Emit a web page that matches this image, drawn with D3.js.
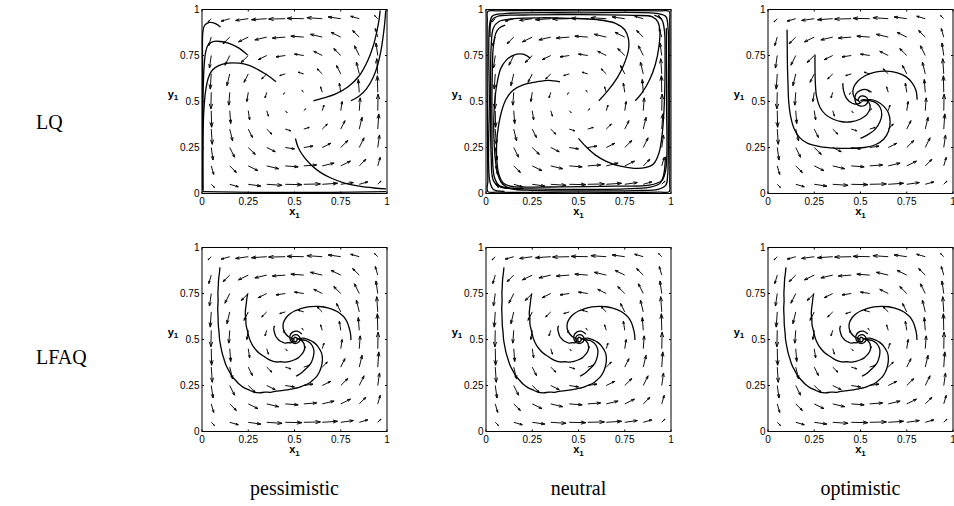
<!DOCTYPE html>
<html><head><meta charset="utf-8">
<script src="https://cdn.jsdelivr.net/npm/d3@7"></script>
<style>body{margin:0;background:#fff}svg{display:block}</style>
</head><body>
<svg id="c" width="954" height="506"></svg>
<script>
// ---------- data ----------
const tickValues = [0, 0.25, 0.5, 0.75, 1];
const tickLabels = ["0", "0.25", "0.5", "0.75", "1"];
const columnLabels = ["pessimistic", "neutral", "optimistic"];
const rowLabels = ["LQ", "LFAQ"];

// quiver grid (same field in all six panels)
const gridX = [0.05, 0.15, 0.25, 0.35, 0.45, 0.55, 0.65, 0.75, 0.85, 0.95];
const gridY = [0.05, 0.15, 0.25, 0.35, 0.45, 0.55, 0.65, 0.75, 0.85, 0.95];
// U[j][i]: x-component at (gridX[i], gridY[j])
const U = [
  [0.043, 0.115, 0.169, 0.205, 0.223, 0.223, 0.205, 0.169, 0.115, 0.043],
  [0.033, 0.089, 0.131, 0.159, 0.173, 0.173, 0.159, 0.131, 0.089, 0.033],
  [0.024, 0.064, 0.094, 0.114, 0.124, 0.124, 0.114, 0.094, 0.064, 0.024],
  [0.014, 0.038, 0.056, 0.068, 0.074, 0.074, 0.068, 0.056, 0.038, 0.014],
  [0.005, 0.013, 0.019, 0.023, 0.025, 0.025, 0.023, 0.019, 0.013, 0.005],
  [-0.005, -0.013, -0.019, -0.023, -0.025, -0.025, -0.023, -0.019, -0.013, -0.005],
  [-0.014, -0.038, -0.056, -0.068, -0.074, -0.074, -0.068, -0.056, -0.038, -0.014],
  [-0.024, -0.064, -0.094, -0.114, -0.124, -0.124, -0.114, -0.094, -0.064, -0.024],
  [-0.033, -0.089, -0.131, -0.159, -0.173, -0.173, -0.159, -0.131, -0.089, -0.033],
  [-0.043, -0.115, -0.169, -0.205, -0.223, -0.223, -0.205, -0.169, -0.115, -0.043]
];
const V = [
  [-0.043, -0.033, -0.024, -0.014, -0.005, 0.005, 0.014, 0.024, 0.033, 0.043],
  [-0.115, -0.089, -0.064, -0.038, -0.013, 0.013, 0.038, 0.064, 0.089, 0.115],
  [-0.169, -0.131, -0.094, -0.056, -0.019, 0.019, 0.056, 0.094, 0.131, 0.169],
  [-0.205, -0.159, -0.114, -0.068, -0.023, 0.023, 0.068, 0.114, 0.159, 0.205],
  [-0.223, -0.173, -0.124, -0.074, -0.025, 0.025, 0.074, 0.124, 0.173, 0.223],
  [-0.223, -0.173, -0.124, -0.074, -0.025, 0.025, 0.074, 0.124, 0.173, 0.223],
  [-0.205, -0.159, -0.114, -0.068, -0.023, 0.023, 0.068, 0.114, 0.159, 0.205],
  [-0.169, -0.131, -0.094, -0.056, -0.019, 0.019, 0.056, 0.094, 0.131, 0.169],
  [-0.115, -0.089, -0.064, -0.038, -0.013, 0.013, 0.038, 0.064, 0.089, 0.115],
  [-0.043, -0.033, -0.024, -0.014, -0.005, 0.005, 0.014, 0.024, 0.033, 0.043]
];

// trajectories [x1, y1]
const lqPessimistic = [
  [[0.10,0.905],[0.07,0.925],[0.04,0.93],[0.015,0.915],[0.005,0.88],[0.003,0.7],[0.003,0.3],[0.003,0.02]],
  [[0.247,0.752],[0.2,0.79],[0.15,0.815],[0.1,0.826],[0.06,0.826],[0.035,0.81],[0.02,0.77],[0.012,0.7],[0.006,0.55],[0.004,0.3],[0.004,0.02]],
  [[0.40,0.607],[0.35,0.645],[0.3,0.675],[0.25,0.698],[0.2,0.708],[0.14,0.708],[0.09,0.695],[0.055,0.67],[0.035,0.63],[0.02,0.56],[0.01,0.45],[0.005,0.3],[0.004,0.1],[0.005,0.01]],
  [[0.602,0.504],[0.66,0.52],[0.72,0.54],[0.79,0.58],[0.85,0.64],[0.895,0.72],[0.925,0.8],[0.945,0.88],[0.958,0.95],[0.963,0.995]],
  [[0.805,0.504],[0.85,0.53],[0.89,0.57],[0.925,0.63],[0.95,0.7],[0.968,0.78],[0.98,0.86],[0.988,0.93],[0.993,0.995]],
  [[0.505,0.299],[0.52,0.25],[0.55,0.2],[0.59,0.155],[0.64,0.115],[0.7,0.083],[0.77,0.057],[0.85,0.04],[0.93,0.03],[0.995,0.025]],
  [[0.006,0.01],[0.3,0.006],[0.7,0.006],[0.994,0.01]]
];
const lqNeutral = [
  [[0.24,0.735],[0.2,0.757],[0.15,0.752],[0.11,0.725],[0.08,0.68],[0.06,0.6],[0.047,0.5],[0.042,0.4],[0.043,0.3],[0.05,0.19],[0.065,0.1],[0.09,0.05],[0.14,0.025],[0.25,0.017],[0.5,0.014],[0.8,0.016],[0.93,0.022],[0.972,0.045],[0.982,0.1],[0.985,0.5],[0.984,0.9],[0.972,0.962],[0.93,0.978],[0.5,0.982],[0.1,0.978],[0.035,0.965],[0.02,0.92],[0.018,0.5],[0.02,0.07],[0.04,0.022],[0.1,0.012]],
  [[0.4,0.607],[0.34,0.615],[0.28,0.608],[0.2,0.59],[0.145,0.56],[0.11,0.515],[0.085,0.45],[0.068,0.37],[0.058,0.28],[0.058,0.19],[0.068,0.11],[0.09,0.06],[0.13,0.04],[0.22,0.035],[0.4,0.036],[0.7,0.04],[0.88,0.045],[0.95,0.07],[0.972,0.13],[0.976,0.5],[0.975,0.9]],
  [[0.61,0.504],[0.66,0.56],[0.71,0.63],[0.745,0.7],[0.77,0.78],[0.77,0.84],[0.75,0.89],[0.7,0.925],[0.6,0.945],[0.45,0.952],[0.3,0.955],[0.15,0.95],[0.07,0.935],[0.04,0.9],[0.028,0.8],[0.025,0.5],[0.028,0.2],[0.04,0.07],[0.08,0.035],[0.2,0.028]],
  [[0.807,0.504],[0.845,0.55],[0.885,0.62],[0.915,0.7],[0.935,0.8],[0.94,0.88],[0.93,0.93],[0.9,0.96],[0.8,0.968],[0.5,0.972],[0.2,0.97],[0.06,0.962],[0.03,0.94],[0.022,0.85]],
  [[0.5,0.3],[0.54,0.255],[0.59,0.21],[0.65,0.175],[0.72,0.15],[0.8,0.137],[0.86,0.14],[0.905,0.16],[0.935,0.22],[0.952,0.32],[0.962,0.45],[0.967,0.6],[0.968,0.75],[0.965,0.88],[0.95,0.945],[0.91,0.97]],
  [[0.104,0.915],[0.08,0.905],[0.06,0.885],[0.047,0.85],[0.038,0.78],[0.033,0.6],[0.032,0.4],[0.035,0.2],[0.045,0.09],[0.07,0.045],[0.12,0.03],[0.25,0.025],[0.5,0.022],[0.75,0.025],[0.88,0.033],[0.94,0.055],[0.96,0.1],[0.97,0.2]],
  [[0.01,0.06],[0.01,0.01],[0.06,0.007],[0.5,0.007],[0.94,0.007],[0.99,0.01],[0.993,0.06],[0.993,0.5],[0.993,0.94],[0.99,0.99],[0.94,0.993],[0.5,0.993],[0.06,0.993],[0.01,0.99],[0.007,0.94],[0.007,0.5],[0.01,0.06]]
];
const lqOptimistic = [
  [[0.103,0.89],[0.104,0.8],[0.105,0.7],[0.108,0.6],[0.112,0.5],[0.122,0.42],[0.14,0.355],[0.17,0.305],[0.215,0.272],[0.28,0.255],[0.36,0.247],[0.44,0.245],[0.52,0.25],[0.58,0.265],[0.625,0.295],[0.652,0.34],[0.66,0.39],[0.65,0.44],[0.625,0.475],[0.59,0.5],[0.555,0.51],[0.525,0.508],[0.505,0.5]],
  [[0.254,0.755],[0.254,0.68],[0.256,0.6],[0.262,0.53],[0.28,0.47],[0.31,0.43],[0.35,0.405],[0.4,0.39],[0.45,0.39],[0.5,0.405],[0.535,0.43],[0.552,0.465],[0.545,0.495],[0.52,0.51],[0.5,0.505]],
  [[0.404,0.6],[0.408,0.56],[0.42,0.525],[0.44,0.5],[0.465,0.487],[0.49,0.488],[0.505,0.497]],
  [[0.806,0.51],[0.8,0.56],[0.78,0.6],[0.745,0.635],[0.7,0.655],[0.64,0.665],[0.58,0.66],[0.525,0.64],[0.485,0.61],[0.462,0.575],[0.46,0.54],[0.472,0.515],[0.49,0.503]],
  [[0.5,0.3],[0.54,0.32],[0.58,0.35],[0.605,0.39],[0.615,0.43],[0.605,0.47],[0.58,0.495],[0.55,0.505],[0.52,0.503]],
  [[0.56,0.55],[0.53,0.565],[0.5,0.56],[0.475,0.54],[0.47,0.51],[0.48,0.485],[0.5,0.475],[0.525,0.48],[0.54,0.5],[0.535,0.52],[0.515,0.53],[0.495,0.525],[0.488,0.508],[0.497,0.495]]
];
const lfaqPessimistic = [
  [[0.097,0.892],[0.094,0.86],[0.09,0.83],[0.088,0.79],[0.086,0.75],[0.087,0.71],[0.085,0.67],[0.087,0.62],[0.088,0.58],[0.092,0.54],[0.095,0.5],[0.102,0.46],[0.108,0.43],[0.12,0.39],[0.13,0.36],[0.147,0.327],[0.162,0.3],[0.18,0.28],[0.2,0.258],[0.224,0.24],[0.25,0.228],[0.28,0.214],[0.31,0.21],[0.34,0.214],[0.37,0.213],[0.4,0.219],[0.43,0.222],[0.46,0.226],[0.49,0.232],[0.52,0.238],[0.55,0.25],[0.578,0.262],[0.6,0.28],[0.62,0.3],[0.635,0.325],[0.645,0.352],[0.65,0.38],[0.65,0.408],[0.645,0.43],[0.633,0.452],[0.62,0.47],[0.6,0.487],[0.585,0.495],[0.565,0.503],[0.55,0.507],[0.52,0.505]],
  [[0.247,0.749],[0.242,0.72],[0.24,0.7],[0.236,0.67],[0.234,0.64],[0.237,0.61],[0.238,0.58],[0.245,0.55],[0.252,0.52],[0.262,0.49],[0.275,0.465],[0.292,0.443],[0.31,0.425],[0.332,0.41],[0.355,0.395],[0.378,0.384],[0.4,0.378],[0.425,0.379],[0.45,0.377],[0.475,0.381],[0.5,0.39],[0.52,0.4],[0.535,0.415],[0.548,0.432],[0.555,0.45],[0.553,0.468],[0.55,0.48],[0.53,0.5],[0.51,0.503]],
  [[0.392,0.575],[0.388,0.56],[0.39,0.545],[0.394,0.53],[0.4,0.515],[0.41,0.503],[0.42,0.493],[0.435,0.486],[0.45,0.48],[0.465,0.483],[0.48,0.482],[0.5,0.495]],
  [[0.805,0.497],[0.804,0.52],[0.8,0.545],[0.794,0.568],[0.787,0.59],[0.778,0.607],[0.765,0.625],[0.748,0.64],[0.73,0.652],[0.705,0.664],[0.68,0.672],[0.65,0.678],[0.62,0.68],[0.59,0.679],[0.56,0.675],[0.53,0.666],[0.5,0.655],[0.478,0.641],[0.46,0.625],[0.448,0.608],[0.44,0.59],[0.438,0.572],[0.44,0.555],[0.446,0.54],[0.455,0.527],[0.466,0.516],[0.48,0.508],[0.5,0.5]],
  [[0.508,0.3],[0.527,0.311],[0.545,0.325],[0.563,0.342],[0.58,0.36],[0.592,0.378],[0.6,0.4],[0.604,0.42],[0.605,0.44],[0.6,0.458],[0.59,0.475],[0.577,0.486],[0.56,0.495],[0.53,0.5]],
  [[0.54,0.53],[0.515,0.545],[0.49,0.54],[0.475,0.52],[0.478,0.495],[0.495,0.48],[0.518,0.482],[0.53,0.5],[0.522,0.52],[0.5,0.525],[0.485,0.51],[0.492,0.492],[0.51,0.49],[0.515,0.505],[0.5,0.512],[0.495,0.5]]
];
const lfaqNeutral = lfaqPessimistic;
const lfaqOptimistic = lfaqPessimistic;

const panelData = [
  [lqPessimistic, lqNeutral, lqOptimistic],
  [lfaqPessimistic, lfaqNeutral, lfaqOptimistic]
];

// ---------- layout ----------
const svg = d3.select("#c");
const W = 185, H = 184;
const lefts = [202, 486, 768];
const tops = [9.5, 247.5];
const x = d3.scaleLinear().domain([0, 1]).range([0, W]);
const y = d3.scaleLinear().domain([0, 1]).range([H, 0]);
const line = d3.line().x(d => x(d[0])).y(d => y(d[1])).curve(d3.curveCatmullRom.alpha(0.5));

// MATLAB-like autoscale
let maxLen = 0;
U.forEach((row, j) => row.forEach((u, i) => {
  const l = Math.hypot(u / 0.1, V[j][i] / 0.1); if (l > maxLen) maxLen = l;
}));
const qs = 0.9 / maxLen;

function drawPanel(g, trajs) {
  let d = "";
  gridY.forEach((gy, j) => gridX.forEach((gx, i) => {
    const u = U[j][i] * qs, v = V[j][i] * qs;
    const ex = gx + u, ey = gy + v;
    const a = 0.3, b = 0.33;
    const h1x = ex - a * (u + b * v), h1y = ey - a * (v - b * u);
    const h2x = ex - a * (u - b * v), h2y = ey - a * (v + b * u);
    d += `M${x(gx)},${y(gy)}L${x(ex)},${y(ey)}`;
    d += `M${x(h1x)},${y(h1y)}L${x(ex)},${y(ey)}L${x(h2x)},${y(h2y)}`;
  }));
  g.append("path").attr("d", d).attr("fill", "none").attr("stroke", "#000").attr("stroke-width", 0.95);

  g.selectAll("path.traj").data(trajs).enter().append("path")
    .attr("class", "traj").attr("d", line).attr("fill", "none")
    .attr("stroke", "#000").attr("stroke-width", 1.3);

  g.append("rect").attr("width", W).attr("height", H).attr("fill", "none").attr("stroke", "#000").attr("stroke-width", 1);

  const tk = 2;
  tickValues.forEach(t => {
    g.append("line").attr("x1", x(t)).attr("x2", x(t)).attr("y1", H).attr("y2", H - tk).attr("stroke", "#000");
    g.append("line").attr("x1", x(t)).attr("x2", x(t)).attr("y1", 0).attr("y2", tk).attr("stroke", "#000");
    g.append("line").attr("y1", y(t)).attr("y2", y(t)).attr("x1", 0).attr("x2", tk).attr("stroke", "#000");
    g.append("line").attr("y1", y(t)).attr("y2", y(t)).attr("x1", W).attr("x2", W - tk).attr("stroke", "#000");
  });
  const font = "Liberation Sans, Arial, sans-serif";
  g.selectAll("text.xt").data(tickValues).enter().append("text")
    .attr("x", d => x(d)).attr("y", H + 11).attr("text-anchor", "middle")
    .attr("font-family", font).attr("font-size", 10).text((d, i) => tickLabels[i]);
  g.selectAll("text.yt").data(tickValues).enter().append("text")
    .attr("x", -2.5).attr("y", d => y(d) + 3.5).attr("text-anchor", "end")
    .attr("font-family", font).attr("font-size", 10).text((d, i) => tickLabels[i]);

  const xl = g.append("text").attr("x", W / 2).attr("y", H + 21.5).attr("text-anchor", "middle")
    .attr("font-family", font).attr("font-size", 11).attr("font-weight", "bold");
  xl.append("tspan").text("x");
  xl.append("tspan").attr("font-size", 8).attr("dy", 2.5).text("1");
  const yl = g.append("text").attr("x", -29).attr("y", 88).attr("text-anchor", "middle")
    .attr("font-family", font).attr("font-size", 11).attr("font-weight", "bold");
  yl.append("tspan").text("y");
  yl.append("tspan").attr("font-size", 8).attr("dy", 2.5).text("1");
}

panelData.forEach((row, r) => row.forEach((trajs, c) => {
  const g = svg.append("g").attr("transform", `translate(${lefts[c]},${tops[r]})`);
  drawPanel(g, trajs);
}));

const serif = "Liberation Serif, Times New Roman, serif";
svg.selectAll("text.col").data(columnLabels).enter().append("text")
  .attr("x", (d, i) => lefts[i] + W / 2).attr("y", 495).attr("text-anchor", "middle")
  .attr("font-family", serif).attr("font-size", 20).text(d => d);
svg.selectAll("text.row").data(rowLabels).enter().append("text")
  .attr("x", 36).attr("y", (d, i) => [129, 364][i])
  .attr("font-family", serif).attr("font-size", 20).text(d => d);
</script>
</body></html>
